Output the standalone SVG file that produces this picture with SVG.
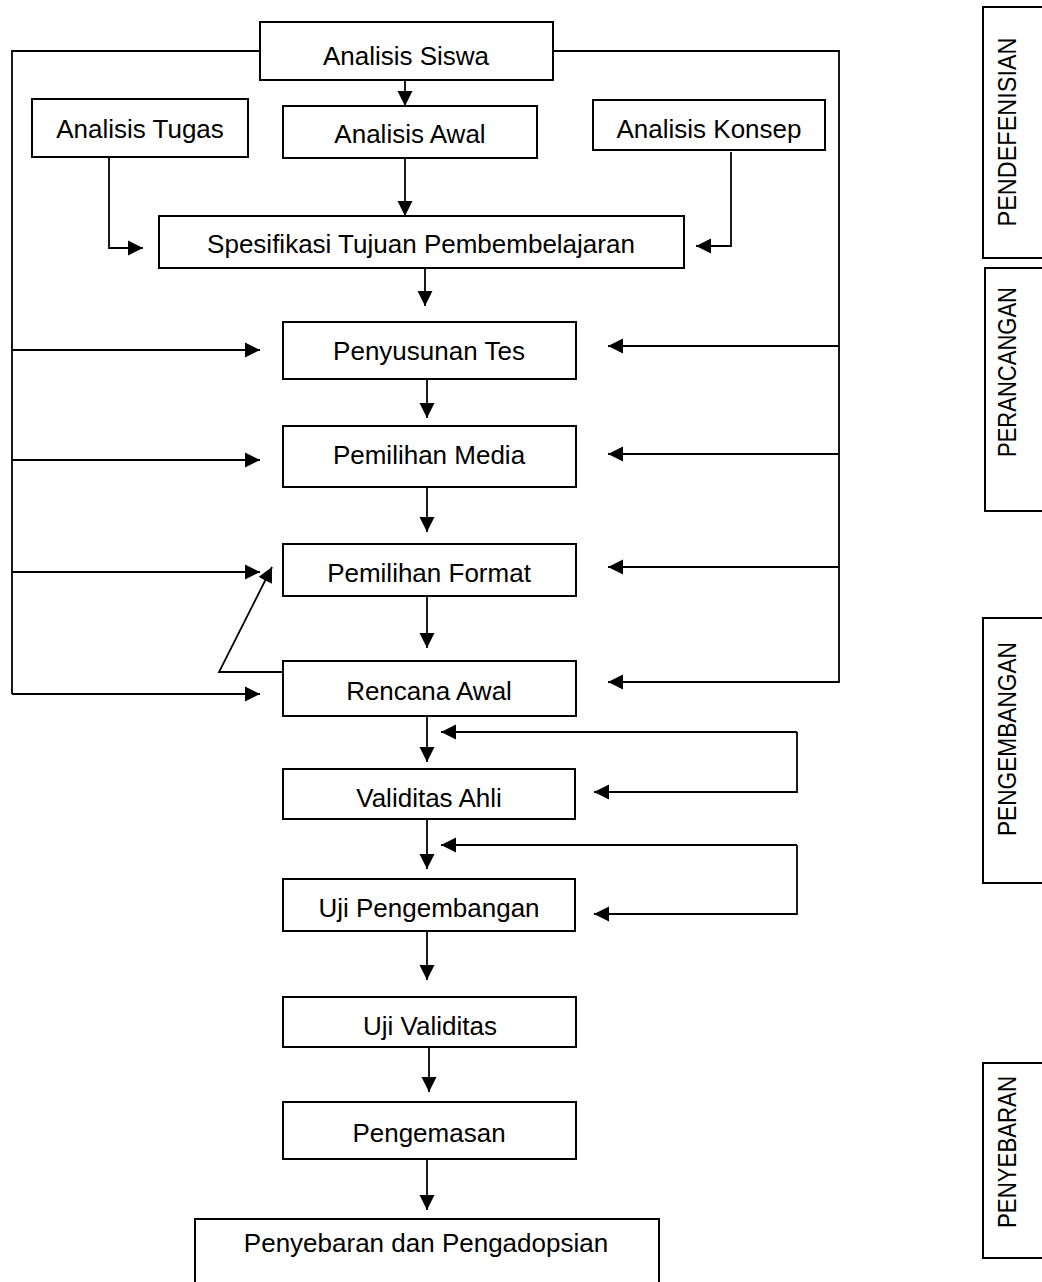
<svg xmlns="http://www.w3.org/2000/svg" width="1042" height="1282" viewBox="0 0 1042 1282">
<style>
.box{fill:#fff;stroke:#000;stroke-width:2}
.t{font-family:"Liberation Sans",Arial,sans-serif;font-size:26px;fill:#000;text-anchor:middle}
.v{font-family:"Liberation Sans",Arial,sans-serif;font-size:25px;fill:#000;text-anchor:middle}
.c{fill:none;stroke:#000;stroke-width:1.8}
.a{marker-end:url(#ah)}
</style>
<defs>
<marker id="ah" markerUnits="userSpaceOnUse" markerWidth="16" markerHeight="16" viewBox="0 0 16 16" refX="15" refY="8" orient="auto">
<path d="M0,0.5 L15,8 L0,15.5 Z" fill="#000"/>
</marker>
</defs>
<rect width="1042" height="1282" fill="#fff"/>
<g id="connectors">
<path class="c" d="M260,51 H12 V694"/>
<path class="c" d="M553,51 H839 V683"/>
<path class="c a" d="M405,80 V106"/>
<path class="c a" d="M405,158 V216"/>
<path class="c a" d="M109,156 V248 H143"/>
<path class="c a" d="M731,152 V246 H696"/>
<path class="c a" d="M425,268 V306"/>
<path class="c a" d="M427,379 V418"/>
<path class="c a" d="M427,487 V532"/>
<path class="c a" d="M427,597 V648"/>
<path class="c a" d="M427,716 V762"/>
<path class="c a" d="M427,819 V869"/>
<path class="c a" d="M427,931 V980"/>
<path class="c a" d="M429,1047 V1092"/>
<path class="c a" d="M427,1159 V1210"/>
<path class="c a" d="M12,350 H260"/>
<path class="c a" d="M12,460 H260"/>
<path class="c a" d="M12,572 H260"/>
<path class="c a" d="M12,694 H260"/>
<path class="c a" d="M839,346 H608"/>
<path class="c a" d="M839,454 H608"/>
<path class="c a" d="M839,567 H608"/>
<path class="c a" d="M839,682 H608"/>
<path class="c a" d="M283,672 H219 L272,567"/>
<path class="c a" d="M797,732 V792 H594"/>
<path class="c a" d="M797,732 H441"/>
<path class="c a" d="M797,845 V914 H594"/>
<path class="c a" d="M797,845 H441"/>
</g>
<g id="analisis-siswa"><rect class="box" x="260" y="22" width="293" height="58"/><text class="t" x="406" y="65">Analisis Siswa</text></g>
<g id="analisis-tugas"><rect class="box" x="32" y="99" width="216" height="58"/><text class="t" x="140" y="138">Analisis Tugas</text></g>
<g id="analisis-awal"><rect class="box" x="283" y="106" width="254" height="52"/><text class="t" x="410" y="143">Analisis Awal</text></g>
<g id="analisis-konsep"><rect class="box" x="593" y="100" width="232" height="50"/><text class="t" x="709" y="138">Analisis Konsep</text></g>
<g id="spesifikasi"><rect class="box" x="159" y="216" width="525" height="52"/><text class="t" x="421" y="253">Spesifikasi Tujuan Pembembelajaran</text></g>
<g id="penyusunan-tes"><rect class="box" x="283" y="322" width="293" height="57"/><text class="t" x="429" y="360">Penyusunan Tes</text></g>
<g id="pemilihan-media"><rect class="box" x="283" y="426" width="293" height="61"/><text class="t" x="429" y="464">Pemilihan Media</text></g>
<g id="pemilihan-format"><rect class="box" x="283" y="544" width="293" height="52"/><text class="t" x="429" y="582">Pemilihan Format</text></g>
<g id="rencana-awal"><rect class="box" x="283" y="661" width="293" height="55"/><text class="t" x="429" y="700">Rencana Awal</text></g>
<g id="validitas-ahli"><rect class="box" x="283" y="769" width="292" height="50"/><text class="t" x="429" y="807">Validitas Ahli</text></g>
<g id="uji-pengembangan"><rect class="box" x="283" y="879" width="292" height="52"/><text class="t" x="429" y="917">Uji Pengembangan</text></g>
<g id="uji-validitas"><rect class="box" x="283" y="997" width="293" height="50"/><text class="t" x="430" y="1035">Uji Validitas</text></g>
<g id="pengemasan"><rect class="box" x="283" y="1102" width="293" height="57"/><text class="t" x="429" y="1142">Pengemasan</text></g>
<g id="penyebaran-pengadopsian"><rect class="box" x="195" y="1219" width="464" height="80"/><text class="t" x="426" y="1252">Penyebaran dan Pengadopsian</text></g>
<g id="label-pendefenisian"><rect class="box" x="983" y="7" width="80" height="251"/><text class="v" transform="translate(1016,132) rotate(-90)" textLength="189" lengthAdjust="spacingAndGlyphs">PENDEFENISIAN</text></g>
<g id="label-perancangan"><rect class="box" x="985" y="268" width="80" height="243"/><text class="v" transform="translate(1016,372) rotate(-90)" textLength="170" lengthAdjust="spacingAndGlyphs">PERANCANGAN</text></g>
<g id="label-pengembangan"><rect class="box" x="983" y="618" width="80" height="265"/><text class="v" transform="translate(1016,739) rotate(-90)" textLength="194" lengthAdjust="spacingAndGlyphs">PENGEMBANGAN</text></g>
<g id="label-penyebaran"><rect class="box" x="983" y="1063" width="80" height="195"/><text class="v" transform="translate(1016,1152) rotate(-90)" textLength="152" lengthAdjust="spacingAndGlyphs">PENYEBARAN</text></g>
</svg>
